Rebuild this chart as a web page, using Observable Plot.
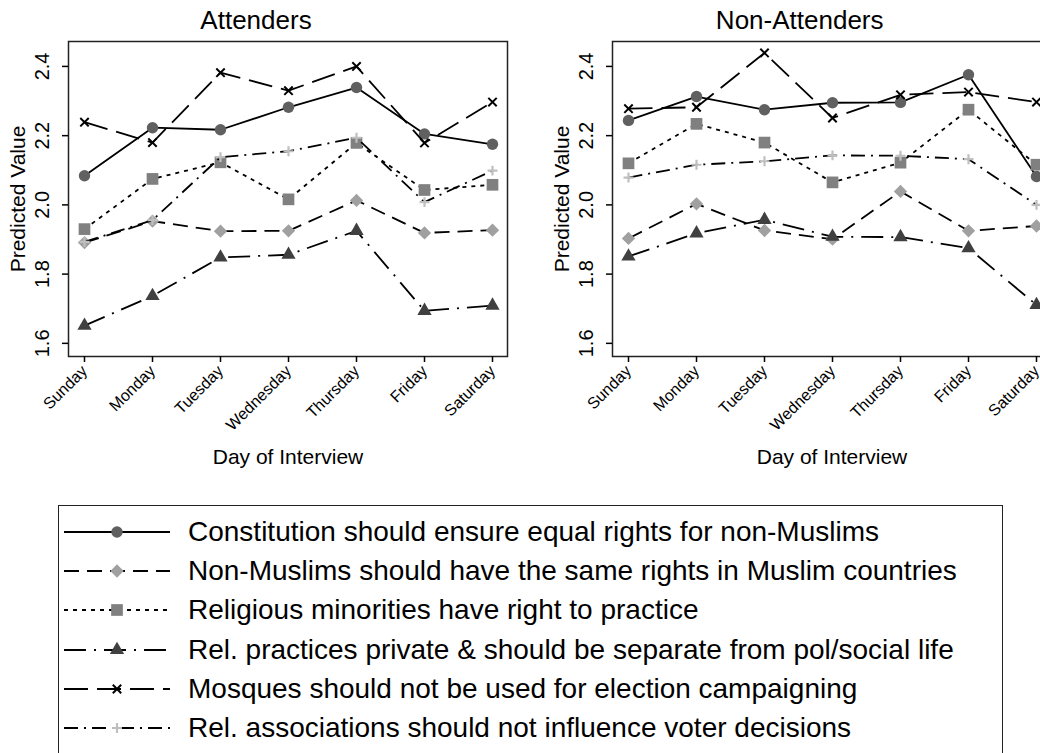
<!DOCTYPE html>
<html><head><meta charset="utf-8">
<script src="https://cdn.jsdelivr.net/npm/d3@7"></script>
<script src="https://cdn.jsdelivr.net/npm/@observablehq/plot@0.6"></script>
<style>
html,body{margin:0;padding:0;background:#fff;}
body{width:1040px;height:753px;overflow:hidden;position:relative;font-family:"Liberation Sans",Arial,Helvetica,sans-serif;color:#000;}
.panel{position:absolute;top:0;width:520px;height:480px;}
.panel svg{max-width:none !important;width:520px;height:480px;}
.ptitle{position:absolute;top:7px;width:400px;text-align:center;font-size:26px;line-height:26px;}
#legend{position:absolute;left:58px;top:505px;width:945px;height:300px;border:1.5px solid #222;box-sizing:border-box;}
.lrow{position:absolute;left:64px;height:30px;display:flex;align-items:center;white-space:nowrap;}
.lrow svg{display:block;}
.lrow span{position:absolute;left:124px;font-size:28px;line-height:30px;top:0;}
</style></head><body>
<script>
const days = ["Sunday","Monday","Tuesday","Wednesday","Thursday","Friday","Saturday"];
const seriesNames = [
  "Constitution should ensure equal rights for non-Muslims",
  "Non-Muslims should have the same rights in Muslim countries",
  "Religious minorities have right to practice",
  "Rel. practices private & should be separate from pol/social life",
  "Mosques should not be used for election campaigning",
  "Rel. associations should not influence voter decisions"
];
const panelTitles = ["Attenders", "Non-Attenders"];
const yTicks = [1.6, 1.8, 2.0, 2.2, 2.4];

// Attenders
const attConstitution = [2.084, 2.223, 2.217, 2.282, 2.339, 2.205, 2.175];
const attNonMuslims   = [1.891, 1.953, 1.924, 1.925, 2.013, 1.919, 1.927];
const attMinorities   = [1.930, 2.075, 2.123, 2.016, 2.179, 2.043, 2.058];
const attPrivate      = [1.651, 1.737, 1.848, 1.856, 1.925, 1.694, 1.709];
const attMosques      = [2.239, 2.180, 2.382, 2.330, 2.400, 2.179, 2.297];
const attAssociations = [1.893, 1.956, 2.138, 2.155, 2.194, 2.008, 2.099];

// Non-Attenders
const nonConstitution = [2.244, 2.313, 2.275, 2.295, 2.296, 2.376, 2.082];
const nonNonMuslims   = [1.903, 2.003, 1.926, 1.901, 2.039, 1.925, 1.939];
const nonMinorities   = [2.120, 2.234, 2.180, 2.065, 2.122, 2.275, 2.116];
const nonPrivate      = [1.851, 1.918, 1.957, 1.908, 1.907, 1.875, 1.711];
const nonMosques      = [2.278, 2.282, 2.439, 2.251, 2.318, 2.326, 2.297];
const nonAssociations = [2.079, 2.116, 2.126, 2.143, 2.142, 2.132, 2.000];

// styles (kept apart from the data)
const styles = [
  {symbol: "circle",   r: 5.7, fill: "#606060", stroke: "none",    sw: 0,   dash: null},
  {symbol: "diamond2", r: 6.0, fill: "#a0a0a0", stroke: "none",    sw: 0,   dash: "15,8"},
  {symbol: "square",   r: 6.6, fill: "#808080", stroke: "none",    sw: 0,   dash: "4,5"},
  {symbol: "triangle", r: 5.3, fill: "#404040", stroke: "none",    sw: 0,   dash: "22,8,2,8"},
  {symbol: "times",    r: 3.9, fill: "none",    stroke: "#000",    sw: 2,   dash: "24,9"},
  {symbol: "plus",     r: 3.3, fill: "none",    stroke: "#bfbfbf", sw: 2.2, dash: "14,6,2,6"}
];
const d3Symbols = {circle: d3.symbolCircle, diamond2: d3.symbolDiamond2, square: d3.symbolSquare,
  triangle: d3.symbolTriangle, times: d3.symbolTimes, plus: d3.symbolPlus};

function makePanel(seriesValues, title, leftPx) {
  const rows = [];
  seriesValues.forEach((arr, s) => arr.forEach((v, i) => rows.push({day: days[i], value: v, series: seriesNames[s]})));
  const marks = [];
  seriesNames.forEach((name, s) => {
    const st = styles[s];
    const d = rows.filter(r => r.series === name);
    marks.push(Plot.line(d, {x: "day", y: "value", stroke: "#000", strokeWidth: 1.8,
      strokeDasharray: st.dash || undefined, strokeLinecap: "butt"}));
    marks.push(Plot.dot(d, {x: "day", y: "value", symbol: st.symbol, r: st.r,
      fill: st.fill, stroke: st.stroke, strokeWidth: st.sw}));
  });
  marks.push(Plot.frame({stroke: "#222", strokeWidth: 1.5}));
  marks.push(Plot.axisX({tickRotate: -45, tickSize: 6, fontSize: 16, strokeWidth: 1.5,
    label: "Day of Interview", labelAnchor: "center", labelArrow: "none", labelOffset: 107}));
  marks.push(Plot.axisY({ticks: yTicks, tickFormat: d => d.toFixed(1), tickRotate: -90, tickSize: 6,
    tickPadding: 14, fontSize: 20, strokeWidth: 1.5,
    label: "Predicted Value", labelAnchor: "center", labelArrow: "none", labelOffset: 58}));

  const svg = Plot.plot({
    width: 520, height: 480,
    marginLeft: 68, marginRight: 13, marginTop: 41, marginBottom: 124,
    style: {fontFamily: '"Liberation Sans", Arial, Helvetica, sans-serif', color: "#000", background: "transparent", overflow: "visible"},
    x: {type: "point", domain: days, padding: 0.19},
    y: {domain: [1.562, 2.472]},
    marks
  });
  d3.select(svg).selectAll('g[aria-label="x-axis label"] text, g[aria-label="y-axis label"] text').attr("font-size", 21);
  const wrap = document.createElement("div");
  wrap.className = "panel";
  wrap.style.left = leftPx + "px";
  wrap.appendChild(svg);
  document.body.appendChild(wrap);

  const t = document.createElement("div");
  t.className = "ptitle";
  t.style.left = (leftPx + 256 - 200) + "px";
  t.textContent = title;
  document.body.appendChild(t);
}

makePanel([attConstitution, attNonMuslims, attMinorities, attPrivate, attMosques, attAssociations], panelTitles[0], 0);
makePanel([nonConstitution, nonNonMuslims, nonMinorities, nonPrivate, nonMosques, nonAssociations], panelTitles[1], 543.7);

// legend
const body = d3.select("body");
body.append("div").attr("id", "legend");
seriesNames.forEach((name, s) => {
  const st = styles[s];
  const row = body.append("div").attr("class", "lrow").style("top", (531.7 + 39.3 * s - 15) + "px");
  const svg = row.append("svg").attr("width", 106).attr("height", 30);
  svg.append("line").attr("x1", 0).attr("x2", 106).attr("y1", 15).attr("y2", 15)
    .attr("stroke", "#000").attr("stroke-width", 1.8)
    .attr("stroke-dasharray", st.dash || null);
  svg.append("path").attr("transform", "translate(53,15)")
    .attr("d", d3.symbol(d3Symbols[st.symbol], Math.PI * st.r * st.r)())
    .attr("fill", st.fill).attr("stroke", st.stroke).attr("stroke-width", st.sw);
  row.append("span").text(name);
});
</script>
</body></html>
